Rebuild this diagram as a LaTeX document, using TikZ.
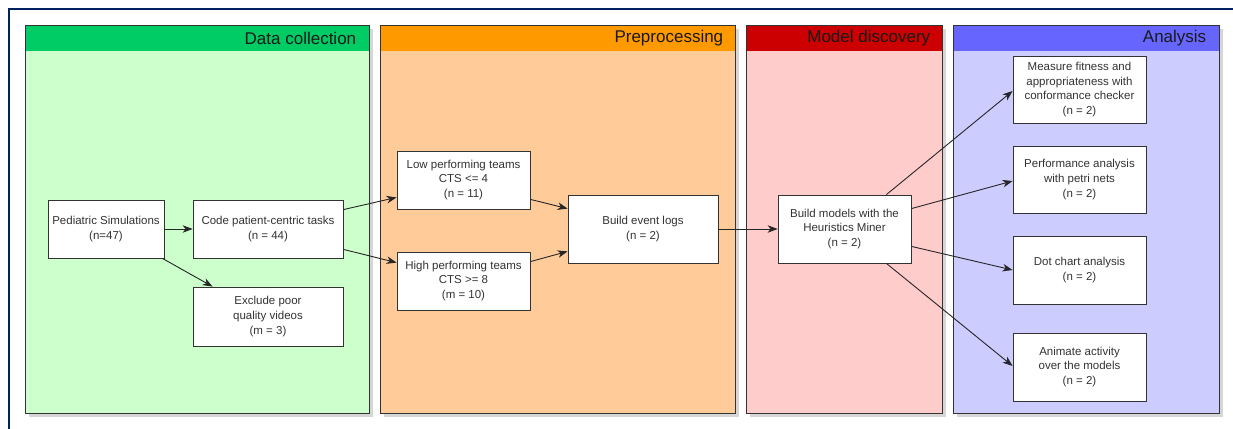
\documentclass[tikz,border=0pt]{standalone}
\usepackage{fontspec}
\setmainfont{Liberation Sans}
\usetikzlibrary{calc,arrows.meta,shadows}

\definecolor{framenavy}{RGB}{0,32,96}
\definecolor{dchead}{RGB}{0,204,102}
\definecolor{dcbody}{RGB}{204,255,204}
\definecolor{pphead}{RGB}{255,153,0}
\definecolor{ppbody}{RGB}{255,204,153}
\definecolor{mdhead}{RGB}{204,0,0}
\definecolor{mdbody}{RGB}{255,204,204}
\definecolor{anhead}{RGB}{102,102,255}
\definecolor{anbody}{RGB}{204,204,255}
\definecolor{boxtext}{RGB}{51,51,51}

\begin{document}
\begin{tikzpicture}[x=1pt,y=-1pt,
  lane/.style={draw=black!80, line width=0.8pt, anchor=north west, inner sep=0pt,
    minimum height=388,
    drop shadow={shadow xshift=4pt, shadow yshift=-4pt, fill=black!16, opacity=1}},
  lanehead/.style={anchor=north west, inner sep=0pt, minimum height=26},
  laneborder/.style={draw=black!80, line width=0.8pt},
  lanetitle/.style={anchor=east, inner sep=0pt, text=black!90,
    font=\fontsize{17}{20}\selectfont},
  stepbox/.style={draw=black!80, fill=white, line width=0.8pt, inner sep=0pt,
    align=center, text=boxtext, font=\fontsize{11.5}{14.6}\selectfont},
  flow/.style={draw=black!85, line width=0.9pt,
    -{Stealth[length=10pt,width=7.5pt,inset=3pt]}}
]
\useasboundingbox (0,0) rectangle (1233,428);
\clip (0,0) rectangle (1233,428);
\fill[white] (0,0) rectangle (1233,428);

% outer frame
\draw[framenavy, line width=2pt] (9,9) rectangle (1300,500);

% lanes
\node[lane, fill=dcbody, minimum width=344] (dc) at (25,25) {};
\node[lanehead, fill=dchead, minimum width=344] (dch) at (25,25) {};
\draw[laneborder] (dc.north west) rectangle (dc.south east);
\node[lanetitle] (dct) at ($(dch.east)+(-13,0)$) {Data collection};

\node[lane, fill=ppbody, minimum width=355] (pp) at (380,25) {};
\node[lanehead, fill=pphead, minimum width=355] (pph) at (380,25) {};
\draw[laneborder] (pp.north west) rectangle (pp.south east);
\node[lanetitle] (ppt) at ($(pph.east)+(-12,0)$) {Preprocessing};

\node[lane, fill=mdbody, minimum width=196] (md) at (746,25) {};
\node[lanehead, fill=mdhead, minimum width=196] (mdh) at (746,25) {};
\draw[laneborder] (md.north west) rectangle (md.south east);
\node[lanetitle] (mdt) at ($(mdh.east)+(-12,0)$) {Model discovery};

\node[lane, fill=anbody, minimum width=266] (an) at (953,25) {};
\node[lanehead, fill=anhead, minimum width=266] (anh) at (953,25) {};
\draw[laneborder] (an.north west) rectangle (an.south east);
\node[lanetitle] (ant) at ($(anh.east)+(-13,0)$) {Analysis};

% steps
\node[stepbox, minimum width=116, minimum height=58] (ped) at (106,229)
  {Pediatric Simulations\\(n=47)};
\node[stepbox, minimum width=150, minimum height=58] (code) at (268,229)
  {Code patient-centric tasks\\(n = 44)};
\node[stepbox, minimum width=150, minimum height=59] (excl) at (268,316.5)
  {Exclude poor\\quality videos\\(m = 3)};
\node[stepbox, minimum width=133, minimum height=58] (low) at (463.5,180)
  {Low performing teams\\CTS <= 4\\(n = 11)};
\node[stepbox, minimum width=133, minimum height=58] (high) at (463.5,281)
  {High performing teams\\CTS >= 8\\(m = 10)};
\node[stepbox, minimum width=150, minimum height=68] (bel) at (643,229)
  {Build event logs\\(n = 2)};
\node[stepbox, minimum width=133, minimum height=68] (bm) at (844.5,229)
  {Build models with the\\Heuristics Miner\\(n = 2)};
\node[stepbox, minimum width=133, minimum height=67] (meas) at (1079.5,89.5)
  {Measure fitness and\\appropriateness with\\conformance checker\\(n = 2)};
\node[stepbox, minimum width=133, minimum height=67] (perf) at (1079.5,179.5)
  {Performance analysis\\with petri nets\\(n = 2)};
\node[stepbox, minimum width=133, minimum height=68] (dot) at (1079.5,270)
  {Dot chart analysis\\(n = 2)};
\node[stepbox, minimum width=133, minimum height=68] (anim) at (1079.5,367)
  {Animate activity\\over the models\\(n = 2)};

% connectors
\draw[flow] (ped.east) -- (code.west);
\draw[flow] ($(ped.south east)+(-2,0)$) -- ($(excl.north west)+(20,0)$);
\draw[flow] ($(code.north east)+(0,10)$) -- ($(low.south west)+(0,-12)$);
\draw[flow] ($(code.south east)+(0,-9)$) -- ($(high.north west)+(0,11)$);
\draw[flow] ($(low.south east)+(0,-10)$) -- ($(bel.north west)+(0,14)$);
\draw[flow] ($(high.north east)+(0,10)$) -- ($(bel.south west)+(0,-12)$);
\draw[flow] (bel.east) -- (bm.west);
\draw[flow] ($(bm.north east)+(-25,0)$) -- ($(meas.west)+(0,1.5)$);
\draw[flow] ($(bm.north east)+(0,14)$) -- ($(perf.west)+(0,1.5)$);
\draw[flow] ($(bm.south east)+(0,-17)$) -- (dot.west);
\draw[flow] ($(bm.south east)+(-25,0)$) -- ($(anim.west)+(0,-1)$);
\end{tikzpicture}
\end{document}
